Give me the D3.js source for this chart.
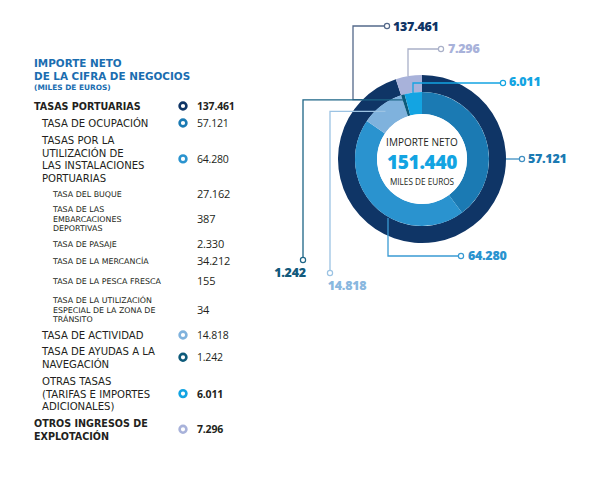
<!DOCTYPE html>
<html>
<head>
<meta charset="utf-8">
<script src="https://cdn.jsdelivr.net/npm/d3@7/dist/d3.min.js"></script>
<style>
  body { margin: 0; background: #fff; }
  svg { display: block; font-family: "Open Sans", sans-serif; }
</style>
</head>
<body>
<svg id="chart" width="600" height="487"></svg>
<script>
// ---- data (miles de euros) ----
const rowNames = [
    ["TASAS PORTUARIAS"],
    ["TASA DE OCUPACIÓN"],
    ["TASAS POR LA", "UTILIZACIÓN DE", "LAS INSTALACIONES", "PORTUARIAS"],
    ["TASA DEL BUQUE"],
    ["TASA DE LAS", "EMBARCACIONES", "DEPORTIVAS"],
    ["TASA DE PASAJE"],
    ["TASA DE LA MERCANCÍA"],
    ["TASA DE LA PESCA FRESCA"],
    ["TASA DE LA UTILIZACIÓN", "ESPECIAL DE LA ZONA DE", "TRÁNSITO"],
    ["TASA DE ACTIVIDAD"],
    ["TASA DE AYUDAS A LA", "NAVEGACIÓN"],
    ["OTRAS TASAS", "(TARIFAS E IMPORTES", "ADICIONALES)"],
    ["OTROS INGRESOS DE", "EXPLOTACIÓN"]
];
const rowValues = [137461, 57121, 64280, 27162, 387, 2330, 34212, 155, 34, 14818, 1242, 6011, 7296];
const rowLevels = [0, 1, 1, 2, 2, 2, 2, 2, 2, 1, 1, 1, 0];
const rowBullet = ["portuarias", "ocupacion", "instalaciones", null, null, null, null, null, null,
    "actividad", "ayudas", "otras", "otros"];

const outerKeys = ["portuarias", "otros"];
const outerValues = [137461, 7296];
const innerKeys = ["ocupacion", "instalaciones", "actividad", "ayudas", "otras"];
const innerValues = [57121, 64280, 14818, 1242, 6011];
const totalNeto = 151440;

// ---- styles / layout ----
const colors = {
    portuarias: "#0f3566", otros: "#a8b2da",
    ocupacion: "#1b7ab3", instalaciones: "#2a93cf", actividad: "#7fb2dd",
    ayudas: "#0d5a7a", otras: "#13a4e2"
};
const lineColors = {
    portuarias: "#54698a", otros: "#a9b0c8", ocupacion: "#3f8fc2", instalaciones: "#3a9ad3",
    actividad: "#9cc3e3", ayudas: "#1d6586", otras: "#13a4e2"
};
const labelColors = {
    portuarias: "#0f3566", otros: "#a8b2da", ocupacion: "#1b7ab3", instalaciones: "#2a93cf",
    actividad: "#8ab8df", ayudas: "#125a7c", otras: "#13a4e2"
};
const rowY = [110, 127, 144, 197, 212, 247, 264, 284, 303, 339, 355, 385, 427];
const rowX = [34, 42, 53];
const bulletX = 183, valueX = 197;
const labelFont = "'DejaVu Sans', sans-serif";

const cx = 422, cy = 159;
const rOuter = [67, 84], rInner = [45, 67];

// leader: angle (deg, clockwise from 12) and radius of start, elbow x, label y, end x
const leaders = [
    {key: "portuarias", a: 315, r: 84, ex: 353, ly: 26, lx: 387, tx: 393, ty: 31, pos: "right"},
    {key: "otros", a: 350.4, r: 84, ex: 408, ly: 49, lx: 441, tx: 448, ty: 53, pos: "right"},
    {key: "otras", a: 352, r: 67, ex: 413, ly: 83, lx: 503, tx: 509, ty: 86, pos: "right"},
    {key: "ocupacion", a: 90, r: 84, ex: 506, ly: 159, lx: 522, tx: 528, ty: 163, pos: "right"},
    {key: "instalaciones", a: 210, r: 68, ex: 388, ly: 256, lx: 461, tx: 468, ty: 260, pos: "right"},
    {key: "ayudas", a: 342.5, r: 62, ex: 303, ly: 260, lx: 303, tx: 290, ty: 277, pos: "below"},
    {key: "actividad", a: 322.5, r: 60, ex: 330, ly: 273, lx: 330, tx: 347, ty: 290, pos: "below"}
];

const es = d3.formatLocale({decimal: ",", thousands: ".", grouping: [3], currency: ["", " €"]});
const fmt = es.format(",d");
const valueOf = {};
outerKeys.forEach((k, i) => valueOf[k] = outerValues[i]);
innerKeys.forEach((k, i) => valueOf[k] = innerValues[i]);

const svg = d3.select("#chart");
const textDark = "#231f20";
const titleBlue = "#1a6db0";

// ---- left table ----
const left = svg.append("g").style("font-family", labelFont);
left.append("text").attr("x", 34).attr("y", 67).attr("fill", titleBlue)
    .attr("font-size", 10.4).attr("font-weight", 700).text("IMPORTE NETO");
left.append("text").attr("x", 34).attr("y", 80).attr("fill", titleBlue)
    .attr("font-size", 10.4).attr("font-weight", 700).text("DE LA CIFRA DE NEGOCIOS");
left.append("text").attr("x", 34).attr("y", 90).attr("fill", titleBlue)
    .attr("font-size", 7.4).attr("font-weight", 700).text("(MILES DE EUROS)");

rowNames.forEach(function (lines, i) {
    const lvl = rowLevels[i];
    const lh = lvl === 2 ? 9.6 : 12.6;
    const fs = lvl === 2 ? 7.9 : (lvl === 0 ? 9.6 : 10.1);
    const g = left.append("g");
    const t = g.append("text").attr("x", rowX[lvl]).attr("y", rowY[i])
        .attr("fill", textDark).attr("font-size", fs)
        .attr("font-weight", lvl === 0 ? 700 : 400);
    lines.forEach(function (ln, j) {
        t.append("tspan").attr("x", rowX[lvl]).attr("dy", j === 0 ? 0 : lh).text(ln);
    });
    const midY = rowY[i] + (lines.length - 1) * lh / 2;
    if (rowBullet[i]) {
        g.append("circle").attr("cx", bulletX).attr("cy", midY - 4)
            .attr("r", 3.4).attr("fill", "#fff")
            .attr("stroke", colors[rowBullet[i]]).attr("stroke-width", 2.6);
    }
    const bold = i === 0 || i === 11 || i === 12;
    g.append("text").attr("x", valueX).attr("y", midY + (lvl === 2 ? 1 : 0))
        .style("font-family", "'Open Sans', sans-serif")
        .attr("fill", textDark).attr("font-size", lvl === 2 ? 11 : 10.5)
        .attr("font-weight", bold ? 700 : 400)
        .attr("letter-spacing", -0.2)
        .text(fmt(rowValues[i]));
});

// ---- donut ----
const pie = d3.pie().sort(null).value(d => d);
const arcOuter = d3.arc().innerRadius(rOuter[0]).outerRadius(rOuter[1]);
const arcInner = d3.arc().innerRadius(rInner[0]).outerRadius(rInner[1]);
const donut = svg.append("g").attr("transform", `translate(${cx},${cy})`);

donut.selectAll("path.outer").data(pie(outerValues)).join("path")
    .attr("class", "outer").attr("d", arcOuter)
    .attr("fill", (d, i) => colors[outerKeys[i]]);
donut.selectAll("path.inner").data(pie(innerValues)).join("path")
    .attr("class", "inner").attr("d", arcInner)
    .attr("fill", (d, i) => colors[innerKeys[i]]);
donut.append("circle").attr("r", rInner[0]).attr("fill", "#fff");

donut.append("text").attr("text-anchor", "middle").attr("y", -13)
    .attr("fill", textDark).attr("font-size", 10).text("IMPORTE NETO");
donut.append("text").attr("text-anchor", "middle").attr("y", 10)
    .attr("fill", "#13a4e2").attr("font-size", 19).attr("font-weight", 800)
    .attr("letter-spacing", -0.3).text(fmt(totalNeto));
donut.append("text").attr("text-anchor", "middle").attr("y", 26)
    .attr("fill", textDark).attr("font-size", 8.2).text("MILES DE EUROS");

// ---- leader lines ----
const line = d3.line();
const leadG = svg.append("g");
leaders.forEach(function (L) {
    const a = L.a * Math.PI / 180;
    const sx = cx + L.r * Math.sin(a), sy = cy - L.r * Math.cos(a);
    const pts = [[sx, sy], [L.ex, sy], [L.ex, L.ly], [L.lx, L.ly]];
    leadG.append("path").attr("d", line(pts)).attr("fill", "none")
        .attr("stroke", lineColors[L.key]).attr("stroke-width", 1.3);
    leadG.append("circle").attr("cx", L.lx).attr("cy", L.ly).attr("r", 2.6)
        .attr("fill", "#fff").attr("stroke", lineColors[L.key]).attr("stroke-width", 1.2);
    leadG.append("text").attr("x", L.tx).attr("y", L.ty)
        .attr("text-anchor", L.pos === "below" ? "middle" : "start")
        .attr("fill", labelColors[L.key]).attr("font-size", 12.5).attr("font-weight", 800)
        .attr("letter-spacing", -0.3)
        .text(fmt(valueOf[L.key]));
});
</script>
</body>
</html>
